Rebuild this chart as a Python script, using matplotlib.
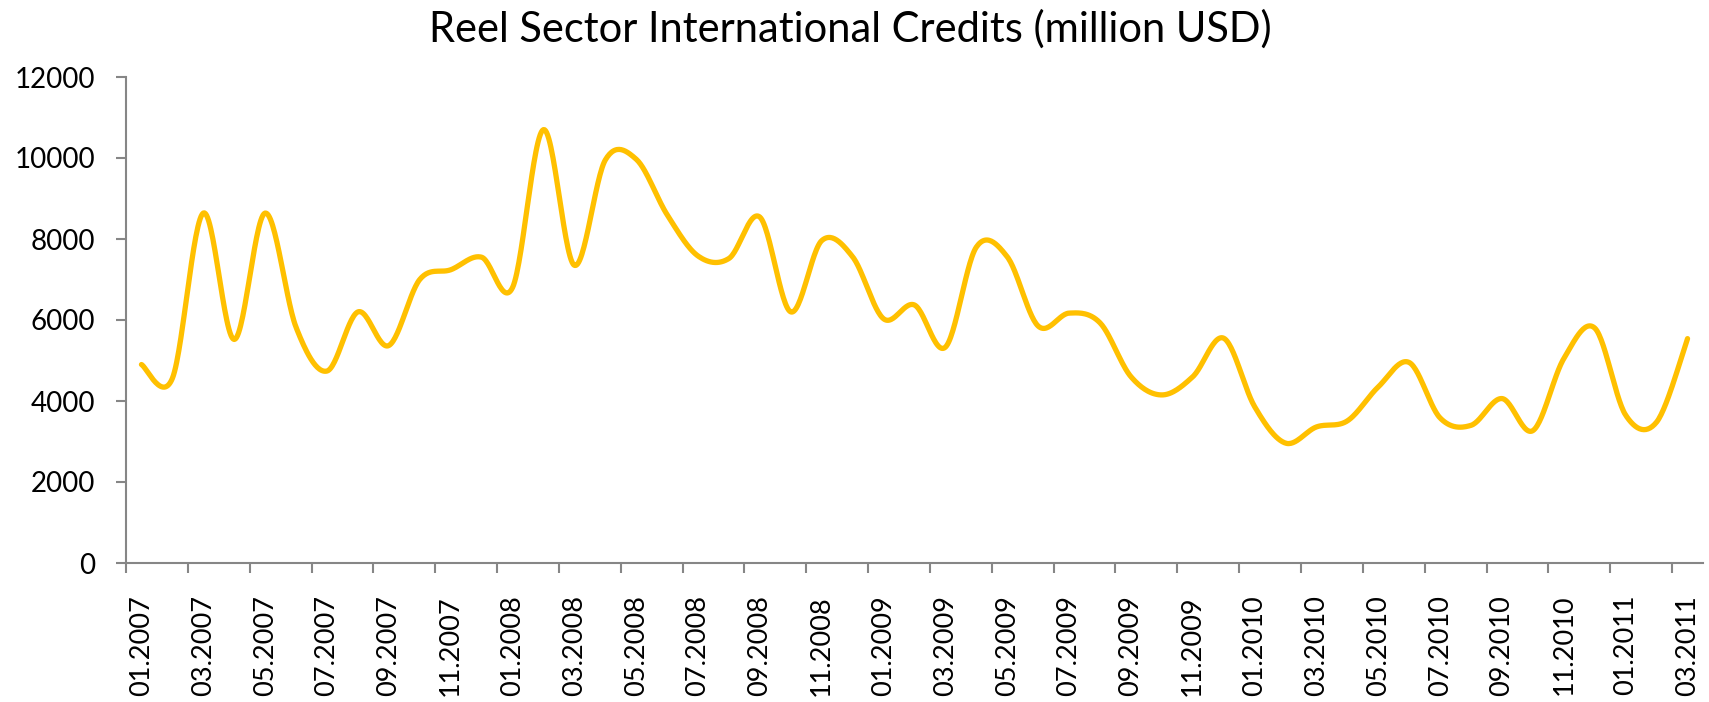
import matplotlib
matplotlib.use("Agg")
import matplotlib.pyplot as plt
import numpy as np

# monthly values, 01.2007 - 03.2011
month_labels = [
    "01.2007", "02.2007", "03.2007", "04.2007", "05.2007", "06.2007",
    "07.2007", "08.2007", "09.2007", "10.2007", "11.2007", "12.2007",
    "01.2008", "02.2008", "03.2008", "04.2008", "05.2008", "06.2008",
    "07.2008", "08.2008", "09.2008", "10.2008", "11.2008", "12.2008",
    "01.2009", "02.2009", "03.2009", "04.2009", "05.2009", "06.2009",
    "07.2009", "08.2009", "09.2009", "10.2009", "11.2009", "12.2009",
    "01.2010", "02.2010", "03.2010", "04.2010", "05.2010", "06.2010",
    "07.2010", "08.2010", "09.2010", "10.2010", "11.2010", "12.2010",
    "01.2011", "02.2011", "03.2011",
]
credit_values = [
    4900, 4560, 8640, 5520, 8640, 5820, 4740, 6200, 5370, 7000,
    7240, 7550, 6800, 10700, 7350, 9950, 9970, 8600, 7580, 7520,
    8540, 6200, 7960, 7560, 6030, 6370, 5330, 7800, 7560, 5850,
    6170, 5930, 4600, 4150, 4600, 5550, 3860, 2960, 3360, 3510,
    4350, 4950, 3580, 3400, 4060, 3270, 5050, 5800, 3650, 3480,
    5540,
]
chart_title = "Reel Sector International Credits (million USD)"


def smooth_curve(xs, ys, steps=30):
    # Excel-style smoothed line (Catmull-Rom through the points)
    pts = np.column_stack([xs, ys]).astype(float)
    padded = np.vstack([pts[0], pts, pts[-1]])
    out = []
    t = np.linspace(0, 1, steps)[:, None]
    for i in range(len(pts) - 1):
        p0, p1, p2, p3 = padded[i], padded[i + 1], padded[i + 2], padded[i + 3]
        b1 = p1 + (p2 - p0) / 6
        b2 = p2 - (p3 - p1) / 6
        seg = ((1 - t) ** 3) * p1 + 3 * ((1 - t) ** 2) * t * b1 \
            + 3 * (1 - t) * t ** 2 * b2 + t ** 3 * p2
        out.append(seg if i == 0 else seg[1:])
    out = np.vstack(out)
    return out[:, 0], out[:, 1]


plt.rcParams["font.family"] = ["Lato", "DejaVu Sans"]
axis_grey = "#868686"

fig = plt.figure(figsize=(17.09, 7.02), dpi=100)
ax = fig.add_axes([126 / 1709, 139 / 702, 1577 / 1709, 486 / 702])

x_idx = np.arange(len(credit_values))
sx, sy = smooth_curve(x_idx, credit_values)
ax.plot(sx, sy, color="#FFC000", linewidth=3.8, solid_capstyle="round")

ax.set_xlim(-0.5, len(credit_values) - 0.5)
ax.set_ylim(0, 12000)
ax.set_yticks(np.arange(0, 12001, 2000))

ax.set_xticks(x_idx[::2])
ax.set_xticklabels(month_labels[::2], rotation=90, va="top", ha="center")
ax.set_xticks(np.arange(-0.5, len(credit_values) - 1, 2), minor=True)
ax.tick_params(axis="x", which="major", length=0, pad=23, labelsize=19.5)
ax.tick_params(axis="x", which="minor", length=7, width=1.5, color=axis_grey, direction="out")
ax.tick_params(axis="y", length=7, width=1.5, color=axis_grey, pad=15, labelsize=20)

for side in ["top", "right"]:
    ax.spines[side].set_visible(False)
for side in ["left", "bottom"]:
    ax.spines[side].set_color(axis_grey)
    ax.spines[side].set_linewidth(1.5)

fig.text(850 / 1709, 1 - 29 / 702, chart_title, ha="center", va="center", fontsize=30)

fig.savefig("out.png", dpi=100)
